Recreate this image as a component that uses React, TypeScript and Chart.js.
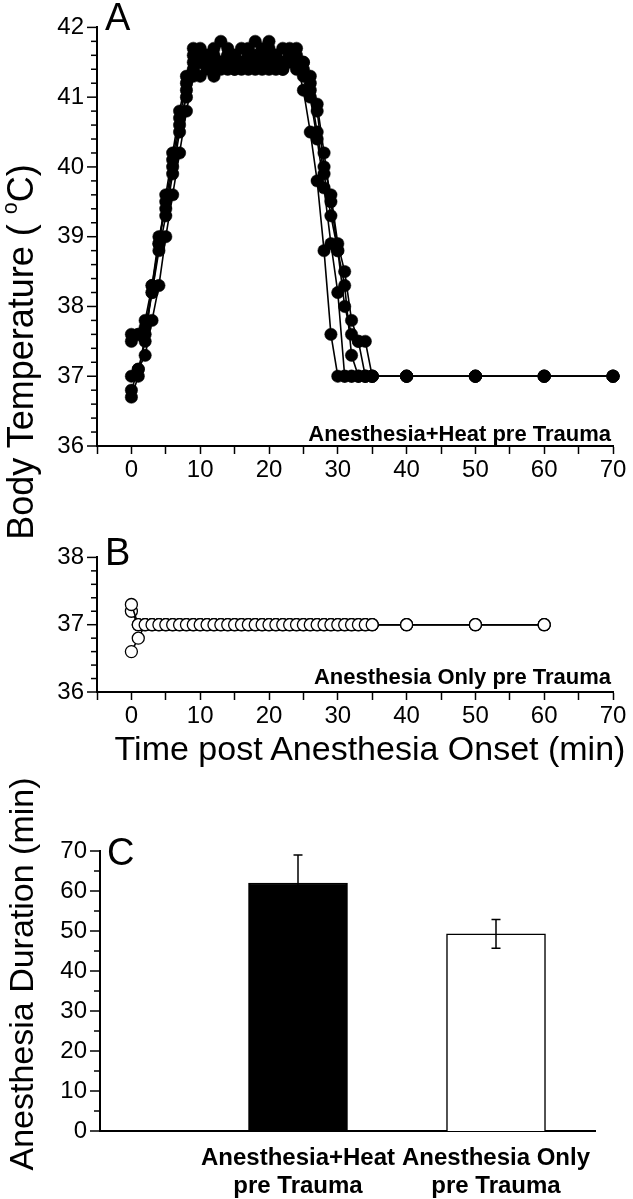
import React, { useEffect, useRef } from 'react';
import { Chart, registerables } from 'chart.js';

Chart.register(...registerables);

// ---------- Data ----------
const timesA = [0, 1, 2, 3, 4, 5, 6, 7, 8, 9, 10, 11, 12, 13, 14, 15, 16, 17, 18, 19,
  20, 21, 22, 23, 24, 25, 26, 27, 28, 29, 30, 31, 32, 33, 34, 35, 40, 50, 60, 70];

const tempA1 = [36.7, 37.0, 37.6, 38.2, 38.9, 39.5, 40.1, 40.7, 41.2, 41.6,
  41.5, 41.4, 41.6, 41.5, 41.4, 41.6, 41.5, 41.7, 41.5, 41.4,
  41.6, 41.5, 41.4, 41.6, 41.5, 41.1, 40.5, 39.8, 38.8, 37.6,
  37.0, 37.0, 37.0, 37.0, 37.0, 37.0, 37.0, 37.0, 37.0, 37.0];
const tempA2 = [37.0, 37.1, 37.5, 38.3, 38.9, 39.6, 40.2, 40.8, 41.3, 41.7,
  41.3, 41.6, 41.5, 41.8, 41.6, 41.4, 41.5, 41.6, 41.8, 41.5,
  41.4, 41.6, 41.7, 41.5, 41.6, 41.4, 41.0, 40.4, 39.7, 38.9,
  38.2, 37.0, 37.0, 37.0, 37.0, 37.0, 37.0, 37.0, 37.0, 37.0];
const tempA3 = [37.5, 37.6, 37.8, 38.3, 39.0, 39.4, 40.0, 40.6, 41.0, 41.5,
  41.7, 41.5, 41.3, 41.5, 41.7, 41.5, 41.4, 41.6, 41.5, 41.7,
  41.5, 41.6, 41.5, 41.7, 41.4, 41.5, 41.1, 40.5, 39.9, 39.3,
  38.8, 38.3, 37.3, 37.0, 37.0, 37.0, 37.0, 37.0, 37.0, 37.0];
const tempA4 = [37.6, 37.6, 37.7, 38.2, 38.8, 39.3, 39.9, 40.5, 41.1, 41.4,
  41.5, 41.6, 41.4, 41.5, 41.6, 41.4, 41.7, 41.5, 41.4, 41.6,
  41.8, 41.5, 41.4, 41.6, 41.7, 41.3, 41.2, 40.8, 40.0, 39.6,
  38.9, 38.5, 37.8, 37.5, 37.5, 37.0, 37.0, 37.0, 37.0, 37.0];
const tempA5 = [36.8, 37.1, 37.3, 37.8, 38.3, 39.0, 39.6, 40.2, 40.8, 41.3,
  41.6, 41.5, 41.7, 41.4, 41.5, 41.6, 41.5, 41.4, 41.6, 41.5,
  41.7, 41.4, 41.5, 41.6, 41.5, 41.5, 41.3, 40.9, 40.2, 39.5,
  38.8, 38.0, 37.6, 37.5, 37.0, 37.0, 37.0, 37.0, 37.0, 37.0];

const timesB = [0, 1, 2, 3, 4, 5, 6, 7, 8, 9, 10, 11, 12, 13, 14, 15, 16, 17, 18, 19,
  20, 21, 22, 23, 24, 25, 26, 27, 28, 29, 30, 31, 32, 33, 34, 35, 40, 50, 60];

const tempB1 = [37.3, 37.0, 37.0, 37.0, 37.0, 37.0, 37.0, 37.0, 37.0, 37.0,
  37.0, 37.0, 37.0, 37.0, 37.0, 37.0, 37.0, 37.0, 37.0, 37.0,
  37.0, 37.0, 37.0, 37.0, 37.0, 37.0, 37.0, 37.0, 37.0, 37.0,
  37.0, 37.0, 37.0, 37.0, 37.0, 37.0, 37.0, 37.0, 37.0];
const tempB2 = [37.2, 37.0, 37.0, 37.0, 37.0, 37.0, 37.0, 37.0, 37.0, 37.0,
  37.0, 37.0, 37.0, 37.0, 37.0, 37.0, 37.0, 37.0, 37.0, 37.0,
  37.0, 37.0, 37.0, 37.0, 37.0, 37.0, 37.0, 37.0, 37.0, 37.0,
  37.0, 37.0, 37.0, 37.0, 37.0, 37.0, 37.0, 37.0, 37.0];
const tempB3 = [36.6, 36.8, 37.0, 37.0, 37.0, 37.0, 37.0, 37.0, 37.0, 37.0,
  37.0, 37.0, 37.0, 37.0, 37.0, 37.0, 37.0, 37.0, 37.0, 37.0,
  37.0, 37.0, 37.0, 37.0, 37.0, 37.0, 37.0, 37.0, 37.0, 37.0,
  37.0, 37.0, 37.0, 37.0, 37.0, 37.0, 37.0, 37.0, 37.0];

const barLabels = [['Anesthesia+Heat', 'pre Trauma'], ['Anesthesia Only', 'pre Trauma']];
const barPositions = [1, 2];
const barValues = [62, 49.3];
const barErrors = [7, 3.6];
const barColors = ['#000000', '#ffffff'];

const annotationA = 'Anesthesia+Heat pre Trauma';
const annotationB = 'Anesthesia Only pre Trauma';

// ---------- Styling ----------
const FONT = '"Liberation Sans", Arial, Helvetica, sans-serif';
Chart.defaults.font.family = FONT;
Chart.defaults.color = '#000';

const yTicksPlugin = {
  id: 'yTicks',
  afterDraw(chart: any, _args: any, opts: any) {
    const s = chart.scales.y;
    const ctx = chart.ctx;
    ctx.save();
    ctx.strokeStyle = '#000';
    ctx.lineWidth = 1.5;
    s.ticks.forEach((t: any) => {
      const r = t.value / opts.majorStep;
      const major = Math.abs(r - Math.round(r)) < 1e-6;
      const len = major ? opts.major : opts.minor;
      const y = s.getPixelForValue(t.value);
      ctx.beginPath();
      ctx.moveTo(s.right - len, y);
      ctx.lineTo(s.right, y);
      ctx.stroke();
    });
    ctx.restore();
  },
};

const textPlugin = {
  id: 'panelText',
  afterDraw(chart: any, _args: any, opts: any) {
    const ctx = chart.ctx;
    (opts.items || []).forEach((it: any) => {
      ctx.save();
      ctx.font = it.font;
      ctx.fillStyle = '#000';
      ctx.textAlign = it.align || 'left';
      ctx.textBaseline = 'alphabetic';
      ctx.fillText(it.text, it.x, it.y);
      ctx.restore();
    });
  },
};

const errorBarPlugin = {
  id: 'errorBars',
  afterDatasetsDraw(chart: any) {
    const ctx = chart.ctx;
    const ys = chart.scales.y;
    const meta = chart.getDatasetMeta(0);
    ctx.save();
    ctx.strokeStyle = '#000';
    ctx.lineWidth = 1.5;
    meta.data.forEach((bar: any, i: number) => {
      const x = bar.x;
      const top = ys.getPixelForValue(barValues[i] + barErrors[i]);
      const bot = ys.getPixelForValue(barValues[i] - barErrors[i]);
      ctx.beginPath();
      ctx.moveTo(x, top);
      ctx.lineTo(x, bot);
      ctx.moveTo(x - 4.5, top);
      ctx.lineTo(x + 4.5, top);
      ctx.moveTo(x - 4.5, bot);
      ctx.lineTo(x + 4.5, bot);
      ctx.stroke();
    });
    ctx.restore();
  },
};

const tickFont = { size: 24, family: FONT };

function timeXAxis(height: number) {
  return {
    type: 'linear',
    min: -5,
    max: 70,
    afterFit: (s: any) => { s.height = height; },
    grid: { display: true, drawOnChartArea: false, drawTicks: true, tickLength: 8, tickColor: '#000', tickWidth: 1.5, color: '#000' },
    border: { display: true, color: '#000', width: 2 },
    ticks: {
      stepSize: 5,
      autoSkip: false,
      maxRotation: 0,
      font: tickFont,
      color: '#000',
      padding: 2,
      callback: (v: any) => (v >= 0 && v % 10 === 0 ? String(v) : ''),
    },
  };
}

function tempYAxis(min: number, max: number) {
  return {
    type: 'linear',
    min,
    max,
    afterFit: (s: any) => { s.width = 97; },
    grid: { display: false, drawTicks: false },
    border: { display: true, color: '#000', width: 2 },
    ticks: {
      stepSize: 0.2,
      autoSkip: false,
      font: tickFont,
      color: '#000',
      padding: 13,
      callback: (v: any) => {
        const r = Math.round(v);
        return Math.abs(v - r) < 1e-6 ? String(r) : '';
      },
    },
  };
}

function lineSeries(times: number[], vals: number[], filled: boolean) {
  return {
    data: times.map((t, i) => ({ x: t, y: vals[i] })),
    borderColor: '#000',
    borderWidth: 1.6,
    pointRadius: filled ? 6.2 : 6,
    pointBackgroundColor: filled ? '#000' : '#fff',
    pointBorderColor: '#000',
    pointBorderWidth: filled ? 0.5 : 1.3,
    tension: 0,
    clip: false,
  };
}

export default function App() {
  const refA = useRef<HTMLCanvasElement>(null);
  const refB = useRef<HTMLCanvasElement>(null);
  const refC = useRef<HTMLCanvasElement>(null);

  useEffect(() => {
    const chartA = new Chart(refA.current as any, {
      type: 'line',
      data: {
        datasets: [tempA1, tempA2, tempA3, tempA4, tempA5].map((v) => lineSeries(timesA, v, true)) as any,
      },
      options: {
        animation: false,
        responsive: false,
        layout: { padding: { top: 17, right: 20, left: 0, bottom: 0 } },
        scales: { x: timeXAxis(49) as any, y: tempYAxis(36, 42) as any },
        plugins: {
          legend: { display: false },
          tooltip: { enabled: false },
          yTicks: { majorStep: 1, major: 10, minor: 6 },
          panelText: {
            items: [
              { text: 'A', x: 105, y: 30, font: `38px ${FONT}` },
              { text: annotationA, x: 611, y: 441, font: `bold 22px ${FONT}`, align: 'right' },
            ],
          },
        } as any,
      },
      plugins: [yTicksPlugin, textPlugin],
    });

    const chartB = new Chart(refB.current as any, {
      type: 'line',
      data: {
        datasets: [tempB1, tempB2, tempB3].map((v) => lineSeries(timesB, v, false)) as any,
      },
      options: {
        animation: false,
        responsive: false,
        layout: { padding: { top: 22, right: 20, left: 0, bottom: 0 } },
        scales: { x: timeXAxis(38) as any, y: tempYAxis(36, 38) as any },
        plugins: {
          legend: { display: false },
          tooltip: { enabled: false },
          yTicks: { majorStep: 1, major: 10, minor: 6 },
          panelText: {
            items: [
              { text: 'B', x: 105, y: 35, font: `38px ${FONT}` },
              { text: annotationB, x: 611, y: 154, font: `bold 22px ${FONT}`, align: 'right' },
            ],
          },
        } as any,
      },
      plugins: [yTicksPlugin, textPlugin],
    });

    const chartC = new Chart(refC.current as any, {
      type: 'bar',
      data: {
        datasets: [
          {
            data: barPositions.map((x, i) => ({ x, y: barValues[i] })),
            backgroundColor: barColors,
            borderColor: '#000',
            borderWidth: 1.5,
            borderSkipped: 'bottom',
            categoryPercentage: 1,
            barPercentage: 1,
          },
        ] as any,
      },
      options: {
        animation: false,
        responsive: false,
        layout: { padding: { top: 31, right: 38, left: 0, bottom: 0 } },
        scales: {
          x: {
            type: 'linear',
            min: 0,
            max: 2.5,
            offset: false,
            afterFit: (s: any) => { s.height = 68; },
            grid: { display: false, drawTicks: false },
            border: { display: true, color: '#000', width: 2 },
            ticks: {
              stepSize: 0.5,
              autoSkip: false,
              maxRotation: 0,
              padding: 13,
              font: { size: 24, weight: 'bold', family: FONT, lineHeight: 1.17 },
              color: '#000',
              callback: (v: any) => {
                const i = barPositions.indexOf(v);
                return i >= 0 ? barLabels[i] : '';
              },
            },
          } as any,
          y: {
            type: 'linear',
            min: 0,
            max: 70,
            afterFit: (s: any) => { s.width = 100; },
            grid: { display: false, drawTicks: false },
            border: { display: true, color: '#000', width: 2 },
            ticks: {
              stepSize: 5,
              autoSkip: false,
              font: tickFont,
              color: '#000',
              padding: 13,
              callback: (v: any) => (v % 10 === 0 ? String(v) : ''),
            },
          } as any,
        },
        plugins: {
          legend: { display: false },
          tooltip: { enabled: false },
          yTicks: { majorStep: 10, major: 10, minor: 6 },
          panelText: {
            items: [{ text: 'C', x: 107, y: 45, font: `38px ${FONT}` }],
          },
        } as any,
      },
      plugins: [yTicksPlugin, textPlugin, errorBarPlugin],
    });

    return () => {
      chartA.destroy();
      chartB.destroy();
      chartC.destroy();
    };
  }, []);

  const rotTitle = (cx: number, cy: number, size: number): React.CSSProperties => ({
    position: 'absolute',
    left: cx - 250,
    top: cy - 22,
    width: 500,
    height: 44,
    lineHeight: '44px',
    textAlign: 'center',
    fontSize: size,
    whiteSpace: 'nowrap',
    transform: 'rotate(-90deg)',
    fontFamily: FONT,
    color: '#000',
  });

  return (
    <div style={{ position: 'absolute', left: 0, top: 0, width: 633, height: 1199, background: '#fff', fontFamily: FONT, overflow: 'hidden' }}>
      <canvas ref={refA} width={633} height={495} style={{ position: 'absolute', left: 0, top: 0, width: 633, height: 495, display: 'block' }} />
      <canvas ref={refB} width={633} height={200} style={{ position: 'absolute', left: 0, top: 530, width: 633, height: 200, display: 'block' }} />
      <canvas ref={refC} width={633} height={379} style={{ position: 'absolute', left: 0, top: 820, width: 633, height: 379, display: 'block' }} />
      <div style={rotTitle(21, 352, 36)}>
        Body Temperature ( <span style={{ fontSize: '0.6em', verticalAlign: '0.75em', lineHeight: 0 }}>o</span>C)
      </div>
      <div style={{ position: 'absolute', left: 100, top: 727, width: 540, height: 42, lineHeight: '42px', textAlign: 'center', fontSize: 34, whiteSpace: 'nowrap', fontFamily: FONT }}>
        Time post Anesthesia Onset (min)
      </div>
      <div style={rotTitle(21, 974, 34)}>Anesthesia Duration (min)</div>
    </div>
  );
}
